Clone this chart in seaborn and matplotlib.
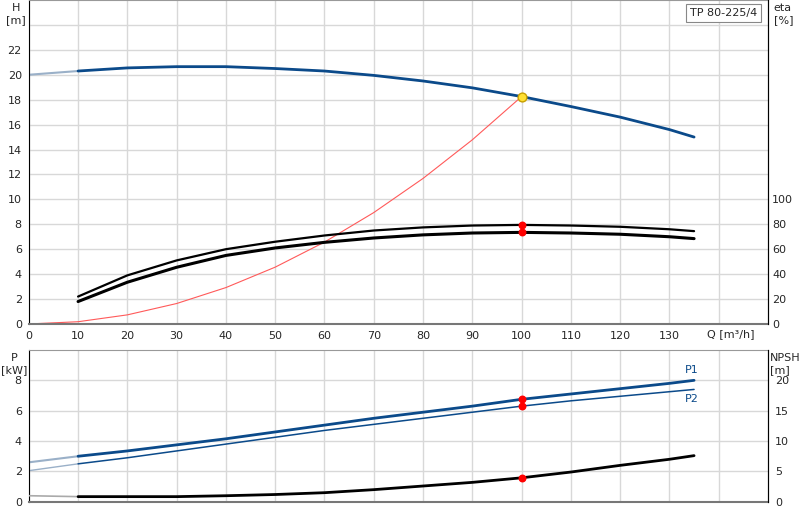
import matplotlib
matplotlib.use("Agg")
import matplotlib.pyplot as plt
import seaborn as sns
import pandas as pd

sns.set_style("white")
plt.rcParams['font.family'] = ['DejaVu Sans']
plt.rcParams['font.size'] = 8

q = [0, 10, 20, 30, 40, 50, 60, 70, 80, 90, 100, 110, 120, 130, 135]
head = [20.0, 20.3, 20.55, 20.65, 20.65, 20.5, 20.3, 19.95, 19.5, 18.95, 18.25, 17.45, 16.6, 15.6, 15.0]
q_eta = [10, 20, 30, 40, 50, 60, 70, 80, 90, 100, 110, 120, 130, 135]
eta_upper = [22, 39, 51, 60, 66, 71, 75, 77.5, 79, 79.5, 79, 78, 76, 74.5]
eta_lower = [18, 33.5, 45.5, 55, 61, 65.5, 69, 71.5, 73, 73.5, 73, 72, 70, 68.5]
q_sys = [0, 10, 20, 30, 40, 50, 60, 70, 80, 90, 100]
h_sys = [0, 0.18, 0.73, 1.64, 2.92, 4.56, 6.57, 8.94, 11.68, 14.78, 18.25]
p1 = [2.6, 3.0, 3.35, 3.75, 4.15, 4.6, 5.05, 5.5, 5.9, 6.3, 6.75, 7.1, 7.45, 7.8, 8.0]
p2 = [2.05, 2.5, 2.9, 3.35, 3.8, 4.25, 4.7, 5.1, 5.5, 5.9, 6.3, 6.65, 6.95, 7.25, 7.4]
npsh = [1.0, 0.85, 0.85, 0.85, 1.0, 1.2, 1.5, 2.0, 2.6, 3.2, 3.95, 4.9, 6.0, 7.0, 7.6]
duty_q = 100
duty_h = 18.25
duty_eta = [79.5, 73.5]
duty_p = [6.75, 6.3]
duty_npsh = 3.95

blue = "#0b4a8a"
light = "#9ab0c8"
grid = "#d8d8d8"

fig = plt.figure(figsize=(8, 5.2), dpi=100)
ax = fig.add_axes([0.036, 0.377, 0.924, 0.623])
ax2 = ax.twinx()
bx = fig.add_axes([0.036, 0.035, 0.924, 0.292])
bx2 = bx.twinx()

def setup(a):
    a.set_xlim(0, 150)
    a.set_xticks(range(0, 150, 10))
    a.grid(True, color=grid, lw=1)
    a.set_axisbelow(True)
    a.spines["top"].set_color("#999999")
    a.spines["left"].set_color("black")
    a.spines["bottom"].set_color("#777777")
    a.spines["bottom"].set_linewidth(1.5)
    a.tick_params(length=0, pad=5, labelsize=8)

setup(ax)
ax.set_ylim(0, 26)
ax.set_xticklabels([str(v) for v in range(0, 140, 10)] + [""])
ax.set_yticks(range(0, 25, 2))
ax.set_yticklabels([str(v) if v <= 22 else "" for v in range(0, 25, 2)])
ax2.set_ylim(0, 260)
ax2.set_yticks(range(0, 101, 20))
ax2.tick_params(length=0, pad=3, labelsize=8)
for s in ax2.spines.values():
    s.set_visible(False)
ax2.spines["right"].set_visible(True)
ax2.spines["right"].set_color("black")

df_h = pd.DataFrame({"q": q, "h": head})
sns.lineplot(data=df_h.iloc[:2], x="q", y="h", ax=ax, color=light, lw=1.5)
sns.lineplot(data=df_h.iloc[1:], x="q", y="h", ax=ax, color=blue, lw=2)
sns.lineplot(x=q_sys, y=h_sys, ax=ax, color="#ff5a5a", lw=0.8)
sns.lineplot(x=q_eta, y=eta_upper, ax=ax2, color="black", lw=1.6)
sns.lineplot(x=q_eta, y=eta_lower, ax=ax2, color="black", lw=2.2)
ax2.scatter([duty_q] * 2, duty_eta, color="red", s=22, zorder=5)
ax.scatter([duty_q], [duty_h], color="#ffe033", edgecolor="#c8a000", s=40, zorder=5)
ax.set_xlabel(""); ax.set_ylabel(""); ax2.set_ylabel("")
ax.text(142.5, -0.85, "Q [m³/h]", ha="center", va="center", fontsize=8)
ax2.text(0.985, 0.96, "TP 80-225/4", transform=ax.transAxes, ha="right", va="center",
         fontsize=8, bbox=dict(boxstyle="square,pad=0.35", fc="white", ec="#888888", lw=0.8))
fig.text(0.02, 0.995, "H\n[m]", ha="center", va="top", fontsize=8, linespacing=1.3)
fig.text(0.967, 0.995, "eta\n[%]", ha="left", va="top", fontsize=8, linespacing=1.3)

setup(bx)
bx.set_xticklabels([])
bx.set_ylim(0, 10)
bx.set_yticks(range(0, 9, 2))
bx2.set_ylim(0, 25)
bx2.set_yticks(range(0, 21, 5))
bx2.tick_params(length=0, pad=5, labelsize=8)
for s in bx2.spines.values():
    s.set_visible(False)
bx2.spines["right"].set_visible(True)
bx2.spines["right"].set_color("black")

dfp = pd.DataFrame({"q": q, "p1": p1, "p2": p2, "n": npsh})
sns.lineplot(data=dfp.iloc[:2], x="q", y="p1", ax=bx, color=light, lw=1.5)
sns.lineplot(data=dfp.iloc[1:], x="q", y="p1", ax=bx, color=blue, lw=2)
sns.lineplot(data=dfp.iloc[:2], x="q", y="p2", ax=bx, color=light, lw=1)
sns.lineplot(data=dfp.iloc[1:], x="q", y="p2", ax=bx, color=blue, lw=1.1)
sns.lineplot(data=dfp.iloc[:2], x="q", y="n", ax=bx2, color="#aaaaaa", lw=1.2)
sns.lineplot(data=dfp.iloc[1:], x="q", y="n", ax=bx2, color="black", lw=2)
bx.scatter([duty_q] * 2, duty_p, color="red", s=22, zorder=5)
bx2.scatter([duty_q], [duty_npsh], color="red", s=22, zorder=5)
bx.text(134.5, 8.45, "P1", color=blue, fontsize=8, ha="center")
bx.text(134.5, 6.6, "P2", color=blue, fontsize=8, ha="center")
for a in (bx, bx2):
    a.set_xlabel(""); a.set_ylabel("")
fig.text(0.018, 0.322, "P\n[kW]", ha="center", va="top", fontsize=8, linespacing=1.3)
fig.text(0.962, 0.322, "NPSH\n[m]", ha="left", va="top", fontsize=8, linespacing=1.3)

fig.savefig("out.png", dpi=100)
